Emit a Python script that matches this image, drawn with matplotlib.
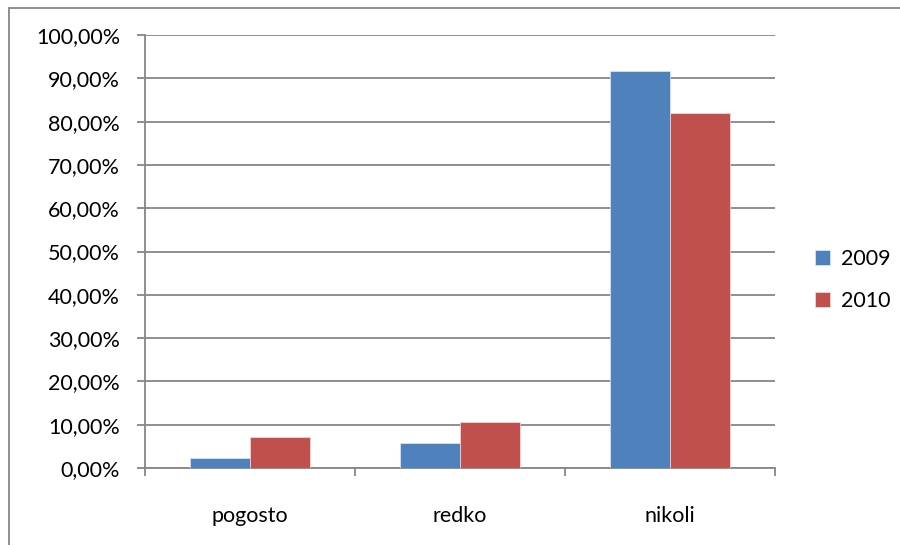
import matplotlib
matplotlib.use('Agg')
import matplotlib.pyplot as plt
import numpy as np
from matplotlib.ticker import FuncFormatter

categories = ['pogosto', 'redko', 'nikoli']
series_names = ['2009', '2010']
values_2009 = [2.3, 5.8, 91.6]
values_2010 = [7.1, 10.6, 82.0]
yticks = [0, 10, 20, 30, 40, 50, 60, 70, 80, 90, 100]

plt.rcParams['font.family'] = ['Lato', 'DejaVu Sans']

fig = plt.figure(figsize=(9, 5.45), dpi=100)
ax = fig.add_axes([145 / 900, 1 - 468 / 545, 630 / 900, 433 / 545])

x = np.arange(len(categories))
w = 60 / 210
ax.bar(x - w / 2, values_2009, w, color='#4F81BD', label=series_names[0],
       edgecolor='#E0E8F2', linewidth=0.5, zorder=3)
ax.bar(x + w / 2, values_2010, w, color='#C0504D', label=series_names[1],
       edgecolor='#F2E0E0', linewidth=0.5, zorder=3)

ax.set_xlim(-0.5, len(categories) - 0.5)
ax.set_ylim(0, 100)
ax.set_yticks(yticks)
ax.yaxis.set_major_formatter(FuncFormatter(lambda v, p: f'{v:.2f}%'.replace('.', ',')))
ax.set_xticks(x)
ax.set_xticklabels(categories)
ax.set_xticks(np.arange(len(categories) + 1) - 0.5, minor=True)

grid_c = '#868686'
ax.yaxis.grid(True, color=grid_c, linewidth=1.3, zorder=0)
for s in ['top', 'right']:
    ax.spines[s].set_visible(False)
for s in ['left', 'bottom']:
    ax.spines[s].set_color(grid_c)
    ax.spines[s].set_linewidth(1.3)

ax.tick_params(axis='y', direction='out', length=6, width=1.3, color=grid_c,
               labelsize=15.5, pad=12)
ax.tick_params(axis='x', which='major', length=0, labelsize=15.5, pad=27)
ax.tick_params(axis='x', which='minor', direction='out', length=6, width=1.3,
               color=grid_c)

ax.legend(loc='center left', bbox_to_anchor=(1.0333, 0.434),
          frameon=False, fontsize=15.5, handlelength=0.7, handleheight=0.7,
          handletextpad=0.5, labelspacing=1.05)

# outer chart border
fig.patches.append(plt.Rectangle((9 / 900, -0.1), 1.2, 1 - 8 / 545 + 0.1,
                                 transform=fig.transFigure, fill=False,
                                 edgecolor='#868686', linewidth=1.3))

fig.savefig('out.png', dpi=100)
